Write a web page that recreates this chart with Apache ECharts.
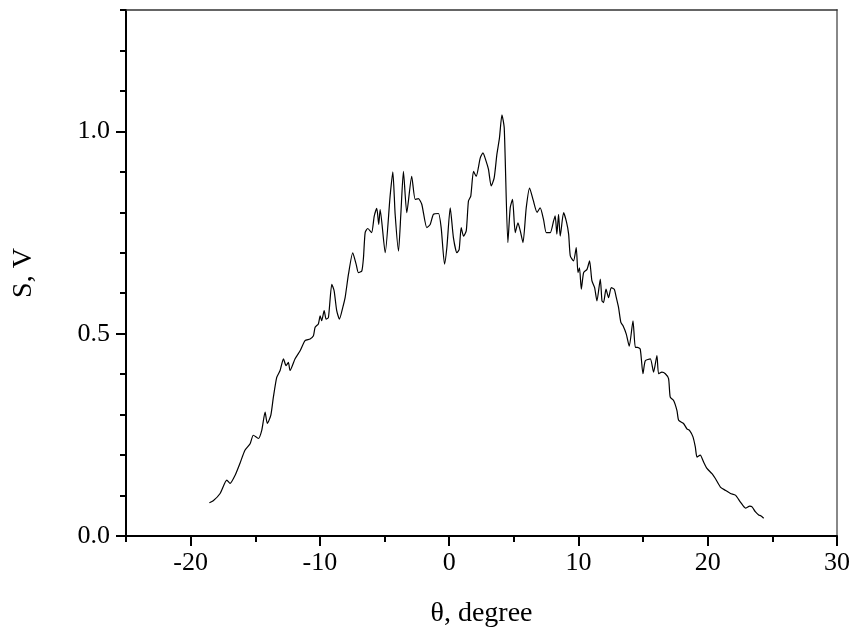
<!DOCTYPE html>
<html>
<head>
<meta charset="utf-8">
<script src="https://cdn.jsdelivr.net/npm/echarts@6/dist/echarts.min.js"></script>
<style>html,body{margin:0;padding:0;background:#fff}#c{width:854px;height:633px}</style>
</head>
<body>
<div id="c"></div>
<script>
// theta (degree)
const thetaValues = [
-18.55,-18.25,-17.72,-17.2,-16.95,-16.56,-16.18,-15.8,-15.4,-15.15,-14.76,-14.5,-14.24,-14.07,-13.8,-13.6,-13.34,-13.08,-12.82,-12.62,-12.44,-12.31,-11.92,-11.53,-11.15,-10.76,-10.5,-10.37,-10.12,-9.98,-9.86,-9.67,-9.52,-9.34,-9.08,-8.9,-8.7,-8.49,-8.23,-8.05,-7.79,-7.46,-7.2,-7.02,-6.76,-6.63,-6.5,
-6.3,-6.0,-5.8,-5.6,-5.45,
-5.34,-4.95,-4.57,-4.36,-4.18,-3.92,-3.74,-3.54,-3.28,-2.9,-2.63,-2.38,-2.12,-1.73,-1.47,-1.22,-0.83,-0.62,-0.36,-0.18,0.08,0.33,0.6,0.77,0.93,1.11,1.32,1.49,1.67,1.88,2.09,2.4,2.61,2.86,3.04,3.25,3.48,3.69,3.89,4.08,4.26,4.54,4.72,4.9,5.11,5.32,5.5,5.71,5.96,6.22,
6.5,6.8,
7.04,7.3,7.51,7.82,8.07,8.2,8.33,8.46,8.59,8.85,9.06,9.24,9.37,9.62,9.83,9.96,10.08,10.22,10.4,10.66,10.86,11.04,11.25,11.43,11.69,11.82,11.94,12.13,12.33,12.54,12.77,12.93,13.1,13.28,13.44,13.7,13.93,14.22,14.4,14.57,14.78,14.99,15.17,15.56,15.81,16.07,16.2,16.46,16.72,16.97,17.1,17.36,17.62,17.75,18.13,18.39,18.59,18.86,19.04,19.17,19.42,19.68,19.94,20.33,20.59,20.98,21.36,21.76,22.14,22.53,22.92,23.25,23.43,23.68,23.94,24.1,24.33
];
// signal S (V)
const signalValues = [
0.082,0.087,0.105,0.138,0.13,0.15,0.18,0.212,0.228,0.249,0.241,0.261,0.306,0.278,0.298,0.343,0.392,0.409,0.438,0.421,0.429,0.409,0.438,0.458,0.483,0.487,0.495,0.516,0.524,0.544,0.532,0.557,0.536,0.54,0.622,0.606,0.557,0.536,0.565,0.589,0.647,0.70,0.672,0.651,0.655,0.688,0.75,
0.76,0.75,0.79,0.81,0.77,
0.807,0.70,0.84,0.90,0.795,0.704,0.795,0.901,0.799,0.889,0.832,0.834,0.82,0.762,0.77,0.795,0.797,0.762,0.672,0.713,0.811,0.737,0.70,0.708,0.762,0.741,0.754,0.828,0.84,0.901,0.889,0.934,0.947,0.926,0.906,0.865,0.885,0.943,0.984,1.041,1.008,0.725,0.811,0.832,0.75,0.774,0.754,0.725,0.811,0.86,
0.83,0.80,
0.811,0.782,0.75,0.75,0.778,0.791,0.746,0.795,0.741,0.799,0.778,0.746,0.692,0.68,0.713,0.651,0.663,0.61,0.651,0.659,0.68,0.631,0.614,0.581,0.635,0.581,0.577,0.61,0.589,0.614,0.61,0.589,0.565,0.528,0.52,0.499,0.469,0.532,0.466,0.466,0.462,0.401,0.433,0.438,0.405,0.446,0.401,0.405,0.401,0.389,0.343,0.335,0.31,0.286,0.278,0.265,0.261,0.245,0.22,0.195,0.2,0.183,0.167,0.154,0.142,0.121,0.113,0.105,0.101,0.084,0.069,0.074,0.072,0.06,0.052,0.05,0.044
];
const xMajorTicks = [-20,-10,0,10,20,30];
const xMinorTicks = [-25,-15,-5,5,15,25];
const yMajorTicks = [0,0.5,1.0];
const yMinorTicks = [0.1,0.2,0.3,0.4,0.6,0.7,0.8,0.9,1.1,1.2,1.3];

const data = thetaValues.map((x,i)=>[x, signalValues[i]]);
const font = '"Liberation Serif","Times New Roman",serif';
const chart = echarts.init(document.getElementById('c'), null, {renderer:'canvas'});
const hidden = {show:false};
chart.setOption({
  animation:false,
  backgroundColor:'#fff',
  grid:{left:126,right:17,top:10,bottom:97,containLabel:false},
  xAxis:[
    {type:'value',min:-25,max:30,position:'bottom',
     name:'θ, degree',nameLocation:'middle',nameGap:64,
     nameTextStyle:{fontFamily:font,fontSize:28,color:'#000'},
     axisLine:{show:true,onZero:false,lineStyle:{color:'#000',width:2}},
     axisTick:{show:true,customValues:xMajorTicks,length:10,lineStyle:{color:'#000',width:2}},
     axisLabel:{show:true,customValues:xMajorTicks,margin:14,fontFamily:font,fontSize:26,color:'#000',showMinLabel:true,showMaxLabel:true},
     splitLine:hidden},
    {type:'value',min:-25,max:30,position:'bottom',
     axisLine:{show:false,onZero:false},
     axisTick:{show:true,customValues:xMinorTicks,length:6,lineStyle:{color:'#000',width:2}},
     axisLabel:hidden,splitLine:hidden},
    {type:'value',min:-25,max:30,position:'top',
     axisLine:{show:true,onZero:false,lineStyle:{color:'#333',width:1.5}},
     axisTick:hidden,axisLabel:hidden,splitLine:hidden}
  ],
  yAxis:[
    {type:'value',min:0,max:1.3,position:'left',
     name:'S, V',nameLocation:'middle',nameGap:88,nameRotate:90,
     nameTextStyle:{fontFamily:font,fontSize:28,color:'#000'},
     axisLine:{show:true,onZero:false,lineStyle:{color:'#000',width:2}},
     axisTick:{show:true,customValues:yMajorTicks,length:10,lineStyle:{color:'#000',width:2}},
     axisLabel:{show:true,customValues:yMajorTicks,margin:16,fontFamily:font,fontSize:26,color:'#000',
       formatter:v=>Number(v).toFixed(1)},
     splitLine:hidden},
    {type:'value',min:0,max:1.3,position:'left',offset:0,
     axisLine:{show:false,onZero:false},
     axisTick:{show:true,customValues:yMinorTicks,length:6,lineStyle:{color:'#000',width:2}},
     axisLabel:hidden,splitLine:hidden},
    {type:'value',min:0,max:1.3,position:'right',
     axisLine:{show:true,onZero:false,lineStyle:{color:'#888',width:2}},
     axisTick:hidden,axisLabel:hidden,splitLine:hidden}
  ],
  series:[{
    type:'line',data:data,xAxisIndex:0,yAxisIndex:0,
    showSymbol:false,symbol:'none',smooth:0.2,
    lineStyle:{color:'#000',width:1.2}
  }]
});
</script>
</body>
</html>
